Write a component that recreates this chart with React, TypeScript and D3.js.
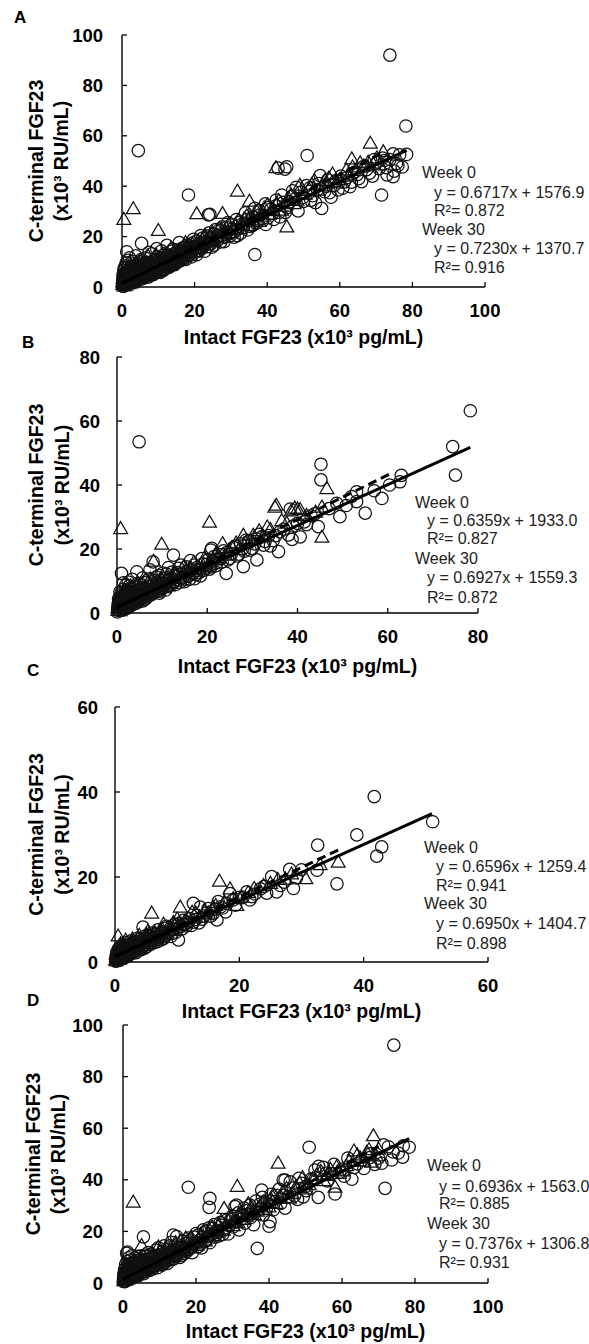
import React from 'react';
import * as d3 from 'd3';

type Pt = [number, number];

// ---------- Panel letters & tick labels ----------
const panelLetters = ['A', 'B', 'C', 'D'];
const xTicksA = [0, 20, 40, 60, 80, 100];
const yTicksA = [0, 20, 40, 60, 80, 100];
const xTicksB = [0, 20, 40, 60, 80];
const yTicksB = [0, 20, 40, 60, 80];
const xTicksC = [0, 20, 40, 60];
const yTicksC = [0, 20, 40, 60];
const xTicksD = [0, 20, 40, 60, 80, 100];
const yTicksD = [0, 20, 40, 60, 80, 100];

const xTitle = 'Intact FGF23 (x10³ pg/mL)';
const yTitle1 = 'C-terminal FGF23';
const yTitle2 = '(x10³ RU/mL)';
const seriesNames = ['Week 0', 'Week 30'];

// ---------- Regression equations (slope, intercept in pg/mL) ----------
const eqA = ['y = 0.6717x + 1576.9', 'R²= 0.872', 'y = 0.7230x + 1370.7', 'R²= 0.916'];
const eqB = ['y = 0.6359x + 1933.0', 'R²= 0.827', 'y = 0.6927x + 1559.3', 'R²= 0.872'];
const eqC = ['y = 0.6596x + 1259.4', 'R²= 0.941', 'y = 0.6950x + 1404.7', 'R²= 0.898'];
const eqD = ['y = 0.6936x + 1563.0', 'R²= 0.885', 'y = 0.7376x + 1306.8', 'R²= 0.931'];
const fitA = [[0.6717, 1576.9], [0.723, 1370.7]];
const fitB = [[0.6359, 1933.0], [0.6927, 1559.3]];
const fitC = [[0.6596, 1259.4], [0.695, 1404.7]];
const fitD = [[0.6936, 1563.0], [0.7376, 1306.8]];
// x-extent of each fitted line [week0, week30]
const fitRangeA = [[0, 78.4], [0, 72]];
const fitRangeB = [[0, 78.3], [0, 61]];
const fitRangeC = [[0, 51], [0, 36]];
const fitRangeD = [[0, 78.4], [0, 70]];

// ---------- Panel A data ----------
const aWeek0: Pt[] = [[0.1,0.4],[0.2,2.1],[0.3,1.0],[0.3,4.2],[0.4,0.2],[0.5,3.0],[0.5,6.5],[0.6,1.6],[0.7,2.6],[0.8,0.8],[0.8,5.2],[0.9,3.6],[1.0,1.9],[1.0,8.4],[1.1,2.8],[1.2,4.4],[1.3,1.2],[1.3,14.0],[1.4,3.4],[1.5,6.0],[1.6,2.2],[1.7,10.6],[1.8,3.9],[1.9,1.6],[2.0,5.1],[2.1,2.9],[2.2,4.0],[2.3,7.2],[2.4,2.3],[2.5,3.5],[2.6,5.8],[2.7,1.9],[2.8,4.6],[2.9,3.0],[3.0,9.2],[3.1,2.6],[3.2,5.3],[3.3,3.9],[3.5,6.9],[3.6,2.8],[3.7,4.5],[3.8,12.4],[3.9,3.6],[4.0,5.9],[4.2,2.9],[4.3,4.8],[4.4,7.8],[4.5,54.1],[4.6,3.8],[4.7,5.6],[4.8,10.0],[5.0,4.2],[5.1,6.6],[5.2,3.1],[5.4,5.2],[5.4,17.3],[5.5,8.4],[5.7,4.5],[5.8,6.2],[6.0,3.6],[6.1,7.1],[6.3,5.0],[6.4,11.5],[6.6,4.2],[6.7,6.4],[6.9,8.9],[7.0,5.1],[7.2,3.9],[7.3,7.3],[7.5,5.8],[7.6,9.8],[7.8,4.6],[8.0,6.9],[8.1,13.2],[8.3,5.4],[8.5,8.1],[8.6,4.9],[8.8,7.0],[9.0,10.6],[9.1,5.6],[9.3,7.9],[9.5,6.2],[9.7,12.0],[9.8,8.6],[10.0,6.0],[10.2,7.6],[10.4,9.9],[10.5,5.8],[10.7,8.3],[10.9,14.4],[11.0,7.1],[11.2,9.2],[11.4,6.6],[11.6,8.8],[11.8,11.3],[12.0,7.4],[12.2,9.6],[12.4,16.5],[12.5,8.1],[12.7,10.4],[12.9,7.8],[13.1,9.9],[13.3,12.6],[13.5,8.5],[13.7,10.8],[13.9,9.2],[14.1,15.0],[14.3,10.1],[14.5,8.9],[14.7,11.6],[14.9,13.8],[15.1,9.7],[15.3,11.0],[15.6,10.2],[15.8,17.6],[16.0,11.8],[16.3,10.5],[16.5,13.2],[16.8,11.4],[17.0,15.6],[17.3,12.0],[17.6,10.9],[17.9,13.7],[18.2,12.4],[18.3,36.5],[18.5,16.4],[18.8,13.0],[19.1,11.9],[19.4,14.6],[19.7,18.9],[20.0,13.8],[20.3,15.5],[20.6,12.8],[21.0,16.9],[21.3,14.5],[21.7,20.4],[22.0,15.3],[22.4,17.6],[22.8,14.2],[23.2,18.1],[23.6,16.0],[23.8,28.6],[24.0,21.5],[24.2,28.8],[24.5,17.2],[25.0,19.4],[25.4,16.6],[25.8,22.8],[26.3,18.4],[26.8,20.6],[27.2,17.9],[27.7,23.9],[28.2,19.7],[28.7,21.8],[29.2,25.6],[29.8,20.4],[30.3,22.9],[30.9,19.8],[31.5,26.8],[32.0,23.0],[32.7,21.4],[33.3,25.2],[34.0,29.4],[34.6,22.6],[35.2,26.3],[35.9,24.4],[36.6,12.9],[36.6,31.2],[37.3,25.8],[38.0,28.6],[38.8,26.4],[39.5,33.0],[40.2,27.5],[41.0,30.9],[41.8,26.8],[42.5,34.5],[43.0,47.2],[43.3,29.6],[44.0,36.5],[44.9,46.8],[45.4,47.7],[45.5,31.5],[46.2,33.8],[47.0,38.2],[47.8,35.0],[48.5,30.2],[49.3,37.6],[50.0,34.0],[51.0,52.2],[51.8,39.4],[52.5,36.2],[53.3,33.5],[54.2,41.0],[55.0,31.2],[55.8,37.8],[56.7,42.6],[57.6,35.6],[58.5,40.4],[59.5,38.5],[60.3,44.0],[61.2,41.6],[62.8,39.8],[64.0,45.5],[65.2,43.0],[66.5,47.8],[68.2,45.2],[69.5,50.6],[70.8,47.0],[71.5,36.5],[72.3,50.2],[73.0,44.5],[73.8,92.0],[74.7,43.8],[74.7,52.8],[75.6,49.0],[76.5,52.5],[77.2,47.6],[78.2,63.9],[78.4,52.6]];
const aWeek0Band: Pt[] = [[0.15,1.3],[0.25,2.9],[0.35,5.0],[0.45,1.7],[0.55,4.0],[0.65,7.6],[0.75,3.3],[0.85,1.2],[0.95,5.9],[1.05,3.1],[1.15,9.6],[1.25,2.4],[1.35,5.2],[1.45,1.6],[1.55,4.3],[1.65,7.8],[1.75,2.8],[1.85,6.4],[1.95,4.6],[2.05,11.6],[2.15,3.6],[2.25,1.8],[2.35,5.6],[2.45,8.2],[2.55,3.9],[2.65,6.7],[2.75,2.5],[2.85,10.2],[2.95,5.2],[3.05,3.4],[3.25,7.8],[3.45,4.6],[3.55,2.3],[3.75,8.6],[3.95,5.2],[4.15,3.8],[4.35,6.6],[4.55,9.2],[4.75,4.4],[4.95,7.2],[5.15,5.0],[5.35,11.0],[5.65,6.0],[5.95,8.0],[6.25,4.7],[6.55,9.8],[6.85,6.2],[7.15,7.6],[7.45,13.8],[7.75,7.0],[8.05,8.8],[8.35,6.4],[8.65,10.4],[8.95,7.6],[9.25,9.0],[9.55,15.2],[9.85,7.2],[10.15,10.8],[10.45,8.0],[10.75,11.6],[11.05,9.4],[11.35,12.6],[11.65,10.0],[11.95,13.4],[12.35,9.0],[12.75,12.0],[13.15,10.8],[13.55,14.2],[13.95,11.4],[14.35,13.0],[14.75,10.0],[15.15,12.6],[15.55,14.8],[15.95,12.8],[16.45,15.2],[16.95,13.0],[17.45,14.8],[17.95,16.6],[18.45,14.2],[18.95,15.8],[19.45,17.4],[19.95,16.0],[20.5,18.2],[21.0,14.4],[21.6,17.2],[22.2,19.4],[22.8,16.6],[23.4,20.2],[24.0,18.6],[24.7,15.8],[25.4,21.0],[26.0,19.4],[26.7,22.6],[27.4,20.4],[28.1,18.0],[28.8,23.6],[29.5,21.2],[30.2,24.6],[31.0,22.0],[31.8,20.4],[32.6,25.8],[33.4,23.6],[34.3,26.8],[35.2,24.0],[36.0,27.8],[36.9,25.2],[37.8,30.4],[38.7,27.2],[39.6,24.8],[40.5,31.6],[41.4,29.2],[42.4,32.2],[43.5,27.8],[44.5,33.6],[45.0,29.6],[46.8,36.0],[48.0,39.6],[49.8,35.4],[50.8,40.2],[52.0,34.4],[53.8,38.6],[54.6,44.2],[56.2,40.0],[57.2,37.4],[59.0,42.2],[60.8,39.2],[62.0,43.4],[63.2,41.6],[64.8,44.6],[66.0,41.8],[67.4,46.6],[69.0,44.0],[70.4,49.6],[71.8,51.2],[72.8,47.4],[73.8,50.6],[75.0,46.0],[76.0,48.2]];
const aWeek30: Pt[] = [[0.2,1.2],[0.3,3.5],[0.5,0.6],[0.5,27.0],[0.6,5.4],[0.8,2.4],[1.0,4.0],[1.1,0.9],[1.3,7.0],[1.5,2.6],[1.7,4.9],[1.9,1.5],[2.1,6.1],[2.3,3.2],[2.6,8.5],[2.8,4.1],[3.0,2.2],[3.1,31.2],[3.3,6.4],[3.6,4.3],[3.9,9.1],[4.2,5.3],[4.5,3.4],[4.8,7.2],[5.1,11.0],[5.4,5.0],[5.7,8.0],[6.0,4.6],[6.4,9.4],[6.8,6.0],[7.2,12.3],[7.6,7.2],[8.0,5.6],[8.4,9.6],[8.9,7.4],[9.3,13.0],[9.8,8.8],[10.0,22.6],[10.3,6.9],[10.8,10.4],[11.3,8.6],[11.8,12.8],[12.3,9.2],[12.9,11.5],[13.5,15.4],[14.1,10.4],[14.7,12.6],[15.4,11.2],[16.1,14.9],[16.8,12.3],[17.5,17.8],[18.3,13.4],[19.0,15.6],[19.8,14.0],[20.6,29.2],[20.6,17.2],[21.5,15.8],[22.4,19.6],[23.3,17.0],[24.3,20.5],[25.3,18.6],[26.4,22.4],[27.5,19.9],[27.7,29.3],[28.7,23.7],[30.0,21.6],[31.2,25.0],[31.8,38.2],[32.5,23.2],[33.7,27.2],[35.0,24.6],[35.1,34.2],[36.4,28.6],[37.8,26.2],[39.2,31.5],[40.6,29.0],[42.4,47.5],[42.6,33.2],[44.0,30.6],[45.4,24.0],[45.8,35.5],[47.4,33.2],[49.0,40.5],[50.5,37.0],[52.3,40.8],[54.0,38.6],[56.0,42.5],[58.0,45.0],[60.0,42.8],[61.8,46.6],[63.3,51.0],[63.5,47.8],[65.6,49.4],[67.8,49.7],[68.4,57.2],[70.2,51.4],[72.0,53.8]];
const aWeek30Band: Pt[] = [[0.25,2.2],[0.45,4.6],[0.7,1.8],[0.9,3.2],[1.2,5.4],[1.4,1.9],[1.6,3.6],[1.8,6.8],[2.0,2.4],[2.2,4.8],[2.5,1.8],[2.7,6.2],[2.9,3.8],[3.2,5.0],[3.4,2.8],[3.8,6.9],[4.1,3.9],[4.4,8.4],[4.7,5.4],[5.0,3.8],[5.3,6.8],[5.6,9.6],[6.2,6.0],[6.6,7.9],[7.0,5.2],[7.4,8.6],[8.2,7.6],[8.7,11.0],[9.1,6.2],[9.6,10.0],[10.6,8.2],[11.1,11.8],[11.6,9.4],[12.6,10.6],[13.2,8.8],[13.8,12.4],[14.4,14.0],[15.0,10.8],[15.8,13.6],[16.5,11.2],[17.2,14.6],[18.0,16.4],[18.7,12.6],[19.4,17.0],[20.2,15.0],[21.0,18.4],[22.0,16.6],[22.9,20.6],[23.8,18.0],[24.8,22.0],[25.8,20.0],[26.9,23.4],[28.2,21.4],[29.4,25.0],[30.6,23.0],[32.0,26.6],[33.2,24.6],[34.4,28.4],[36.0,26.8],[37.2,30.0],[38.4,28.2],[40.0,32.6],[41.6,30.4],[43.2,34.4],[44.8,32.2],[46.6,36.6],[48.2,34.6],[51.5,39.0],[53.0,42.4],[55.0,40.2],[57.0,43.4],[59.0,41.4],[62.6,44.6],[64.6,46.4],[66.6,48.2],[69.2,49.0],[71.0,48.6]];

// ---------- Panel B data ----------
const bWeek0: Pt[] = [[0.1,0.3],[0.2,1.6],[0.3,3.1],[0.4,0.8],[0.5,2.4],[0.6,4.8],[0.7,1.3],[0.8,3.4],[0.9,6.2],[1.0,12.4],[1.0,2.0],[1.1,4.1],[1.2,0.9],[1.3,2.9],[1.4,7.4],[1.5,3.6],[1.6,1.7],[1.7,5.2],[1.8,2.5],[1.9,8.6],[2.0,3.9],[2.1,1.4],[2.2,5.8],[2.3,3.1],[2.4,4.6],[2.5,9.7],[2.6,2.4],[2.7,6.4],[2.8,3.7],[2.9,5.0],[3.0,2.2],[3.2,7.4],[3.3,4.2],[3.4,10.5],[3.5,3.0],[3.6,5.6],[3.8,4.0],[3.9,8.1],[4.0,2.9],[4.2,6.2],[4.3,4.7],[4.4,12.9],[4.5,3.6],[4.7,7.0],[4.9,53.5],[4.9,5.1],[5.1,9.0],[5.3,4.0],[5.5,6.3],[5.7,11.0],[5.9,5.0],[6.1,7.6],[6.3,4.4],[6.5,9.5],[6.7,6.1],[6.9,8.2],[7.1,5.3],[7.3,13.5],[7.5,7.0],[7.7,5.8],[8.0,16.0],[8.0,9.1],[8.2,6.4],[8.4,7.9],[8.7,11.2],[8.9,6.8],[9.2,8.8],[9.4,6.2],[9.7,10.3],[10.0,7.6],[10.2,12.5],[10.5,8.6],[10.8,7.2],[11.1,10.0],[11.4,14.2],[11.7,8.8],[12.0,10.8],[12.3,9.4],[12.5,18.1],[12.7,11.7],[13.0,8.9],[13.4,12.6],[13.8,10.3],[14.2,15.0],[14.6,11.0],[15.0,9.8],[15.4,13.1],[15.8,11.5],[16.3,16.4],[16.7,12.2],[17.2,10.7],[17.7,14.2],[18.2,12.6],[18.8,17.0],[19.3,13.4],[19.9,15.2],[20.5,13.7],[20.8,19.7],[21.0,20.2],[21.2,16.3],[21.9,14.8],[22.6,18.2],[23.3,16.0],[24.2,12.4],[24.3,18.9],[25.0,17.1],[25.8,20.5],[26.6,17.8],[27.4,21.6],[28.0,14.5],[28.2,19.3],[29.1,22.4],[30.0,20.2],[31.0,16.6],[31.0,23.1],[32.1,23.8],[32.5,21.2],[33.6,24.2],[34.6,22.6],[35.8,19.2],[36.1,25.4],[38.4,32.5],[38.8,23.0],[39.0,27.2],[40.6,23.8],[41.5,28.5],[43.0,30.4],[44.6,27.0],[45.2,46.5],[45.2,41.6],[48.7,34.3],[49.4,30.1],[53.1,37.9],[53.1,34.8],[55.0,31.2],[58.7,35.8],[62.7,41.0],[74.4,52.0],[75.0,43.1],[78.3,63.2]];
const bWeek0Band: Pt[] = [[0.15,1.0],[0.25,2.4],[0.35,4.4],[0.45,1.4],[0.55,3.4],[0.65,6.6],[0.75,2.2],[0.85,4.6],[0.95,1.2],[1.05,3.2],[1.15,5.8],[1.25,2.0],[1.35,4.2],[1.45,9.4],[1.55,2.6],[1.65,6.0],[1.75,3.8],[1.85,1.8],[1.95,5.0],[2.05,7.0],[2.15,2.8],[2.25,4.4],[2.35,1.6],[2.45,6.6],[2.55,3.6],[2.7,8.4],[2.85,4.6],[3.0,3.4],[3.1,6.0],[3.25,2.6],[3.4,5.0],[3.55,7.6],[3.7,3.6],[3.85,5.8],[4.05,4.0],[4.25,8.8],[4.45,5.4],[4.65,3.4],[4.85,6.8],[5.05,4.4],[5.3,7.8],[5.5,5.0],[5.75,3.8],[6.0,6.6],[6.2,9.6],[6.45,5.4],[6.75,7.4],[7.0,10.6],[7.25,6.0],[7.55,8.4],[7.85,6.6],[8.3,10.2],[8.6,7.2],[9.0,9.4],[9.3,11.8],[9.6,7.6],[9.9,8.8],[10.3,10.8],[10.7,9.2],[11.0,12.2],[11.3,8.2],[11.8,10.4],[12.2,12.8],[12.6,9.8],[13.1,11.4],[13.6,14.0],[14.0,9.6],[14.4,12.2],[14.9,10.4],[15.3,14.4],[15.7,12.6],[16.1,10.6],[16.6,13.4],[17.1,15.0],[17.5,12.0],[18.0,13.8],[18.5,11.6],[19.0,15.4],[19.6,14.0],[20.2,16.6],[20.8,14.4],[21.5,17.6],[22.2,15.8],[22.9,17.0],[23.6,19.4],[24.6,16.6],[25.4,18.6],[26.2,20.8],[27.0,18.4],[27.8,20.0],[28.6,22.8],[29.5,19.6],[30.5,21.6],[31.5,24.6],[32.8,22.4],[34.0,21.0],[35.2,24.2],[37.0,26.2],[38.0,24.4],[40.0,28.0],[42.0,27.6],[43.8,31.0],[47.0,32.6],[50.8,33.6],[52.0,36.4],[57.0,38.2],[60.4,40.0],[63.0,43.0]];
const bWeek30: Pt[] = [[0.2,0.9],[0.4,2.6],[0.6,4.4],[0.8,26.5],[0.8,1.6],[1.0,3.3],[1.3,5.9],[1.5,2.1],[1.8,4.0],[2.1,7.0],[2.4,2.9],[2.7,5.0],[3.0,8.6],[3.4,3.8],[3.8,6.4],[4.2,4.6],[4.7,9.3],[5.2,6.0],[5.7,4.8],[6.2,8.4],[6.8,6.8],[7.4,10.8],[8.0,8.0],[8.1,16.3],[8.7,6.6],[9.4,9.6],[9.9,21.6],[10.2,8.2],[11.0,11.4],[11.9,9.3],[12.8,12.7],[13.8,10.9],[14.8,14.6],[15.9,12.4],[17.0,15.9],[18.2,13.9],[19.4,17.3],[20.5,28.5],[20.7,15.4],[22.0,18.9],[23.4,21.8],[24.8,19.6],[26.4,22.0],[28.0,24.4],[29.7,22.8],[31.5,25.8],[33.3,27.0],[35.0,33.2],[35.3,33.8],[36.5,29.0],[39.4,32.9],[40.0,32.6],[40.6,32.4],[45.4,33.2],[45.4,23.8],[46.5,39.0]];
const bWeek30Band: Pt[] = [[0.3,1.8],[0.5,3.6],[0.7,0.8],[0.9,2.4],[1.1,5.0],[1.4,3.0],[1.6,6.8],[1.9,2.6],[2.2,4.4],[2.5,6.0],[2.8,3.4],[3.2,5.6],[3.6,7.6],[4.0,3.6],[4.4,5.8],[4.9,7.8],[5.4,5.2],[5.9,7.2],[6.5,5.6],[7.1,8.8],[7.7,7.4],[8.4,9.6],[9.1,7.6],[9.8,11.0],[10.6,9.4],[11.4,8.6],[12.2,11.0],[13.2,12.4],[14.2,11.4],[15.3,13.4],[16.4,14.2],[17.6,13.0],[18.8,15.6],[20.0,14.6],[21.4,16.8],[22.7,17.4],[24.0,18.2],[25.5,20.6],[27.0,20.0],[28.6,22.0],[30.2,24.4],[32.4,24.0],[34.0,26.2],[37.6,28.2],[38.6,32.0],[42.0,30.6],[44.0,31.6]];

// ---------- Panel C data ----------
const cWeek0: Pt[] = [[0.1,0.2],[0.2,1.3],[0.3,0.6],[0.3,2.4],[0.4,0.9],[0.5,1.8],[0.6,3.2],[0.6,0.4],[0.7,1.4],[0.8,2.6],[0.9,0.8],[1.0,1.9],[1.1,3.9],[1.2,1.1],[1.3,2.5],[1.4,1.5],[1.5,3.4],[1.6,2.0],[1.7,4.6],[1.8,1.6],[1.9,2.9],[2.0,2.2],[2.1,3.8],[2.2,1.7],[2.4,3.1],[2.5,2.4],[2.6,5.0],[2.8,2.8],[2.9,3.9],[3.0,2.2],[3.2,4.5],[3.3,3.0],[3.5,3.7],[3.6,5.6],[3.8,3.2],[4.0,4.3],[4.2,2.9],[4.4,5.2],[4.5,8.2],[4.6,3.8],[4.8,4.8],[5.0,6.2],[5.2,4.1],[5.4,5.4],[5.7,4.6],[5.9,6.8],[6.1,5.1],[6.4,6.0],[6.7,5.3],[6.9,7.6],[7.2,5.9],[7.5,6.7],[7.8,5.5],[8.1,7.9],[8.4,6.4],[8.8,7.3],[9.2,6.7],[9.6,8.9],[10.0,7.6],[10.2,5.2],[10.5,8.4],[11.0,9.8],[11.5,8.5],[12.0,10.2],[12.6,13.8],[12.6,9.4],[13.2,11.0],[13.7,12.9],[14.0,10.1],[14.8,11.6],[15.4,10.8],[16.1,12.4],[16.4,9.9],[16.6,14.2],[17.3,12.7],[18.0,13.8],[18.5,16.1],[19.0,14.6],[20.0,15.2],[21.2,16.5],[21.7,14.6],[22.5,16.0],[23.4,17.2],[24.4,16.2],[25.2,20.1],[26.0,16.5],[27.2,18.8],[28.1,21.8],[28.7,17.3],[30.0,21.7],[32.5,21.6],[32.6,27.5],[35.7,18.4],[38.9,29.9],[41.7,38.9],[42.1,24.9],[42.9,27.1],[51.1,33.0]];
const cWeek0Band: Pt[] = [[0.15,0.9],[0.25,1.8],[0.35,0.3],[0.45,1.3],[0.55,2.4],[0.65,1.0],[0.75,3.0],[0.85,1.6],[0.95,2.4],[1.05,0.8],[1.15,1.8],[1.25,3.0],[1.35,2.0],[1.45,0.9],[1.55,2.6],[1.65,1.3],[1.75,3.2],[1.85,2.3],[1.95,4.0],[2.05,1.4],[2.15,2.6],[2.3,3.4],[2.45,1.9],[2.55,4.2],[2.7,2.2],[2.85,3.4],[3.0,4.6],[3.1,2.6],[3.25,3.6],[3.4,2.2],[3.55,4.2],[3.7,2.8],[3.9,3.8],[4.1,5.4],[4.3,3.4],[4.5,4.4],[4.7,3.2],[4.9,5.6],[5.1,3.6],[5.3,4.8],[5.6,6.2],[5.8,4.2],[6.0,5.6],[6.3,4.6],[6.6,6.6],[6.8,4.8],[7.1,6.4],[7.4,5.2],[7.7,7.0],[8.0,6.0],[8.3,8.4],[8.6,6.8],[9.0,6.0],[9.4,7.8],[9.8,7.0],[10.3,9.0],[10.8,7.8],[11.2,8.8],[11.8,9.4],[12.3,8.6],[13.0,10.0],[13.5,9.2],[14.3,10.8],[15.0,12.6],[15.8,11.4],[17.0,13.0],[17.8,11.8],[19.4,13.4],[20.6,15.2],[22.0,15.4],[24.0,17.8],[26.6,18.0],[29.2,19.8]];
const cWeek30: Pt[] = [[0.1,0.6],[0.2,2.0],[0.3,1.0],[0.4,3.0],[0.5,6.2],[0.6,1.6],[0.8,2.7],[0.9,4.4],[1.1,1.8],[1.3,3.4],[1.5,2.4],[1.7,5.2],[1.9,3.0],[2.2,4.2],[2.5,2.6],[2.8,5.5],[3.1,3.6],[3.5,4.8],[3.9,6.4],[4.3,4.4],[4.8,5.9],[5.3,7.3],[5.8,5.6],[5.9,11.6],[6.4,7.0],[7.0,6.2],[7.6,7.8],[7.8,9.0],[8.5,8.1],[9.4,9.4],[10.5,13.0],[10.6,9.0],[11.8,10.4],[13.0,11.6],[14.4,12.0],[15.8,12.9],[16.8,19.1],[18.5,17.3],[19.6,13.4],[20.4,15.4],[22.4,17.4],[23.9,18.1],[26.2,19.5],[28.4,20.8],[30.7,19.7],[33.0,23.0],[35.9,23.6]];
const cWeek30Band: Pt[] = [[0.2,0.4],[0.35,1.6],[0.55,2.4],[0.7,0.8],[0.85,3.6],[1.0,1.4],[1.2,2.6],[1.4,4.2],[1.6,1.6],[1.8,3.4],[2.0,2.0],[2.35,3.8],[2.65,4.8],[2.95,2.8],[3.3,4.4],[3.7,3.4],[4.1,5.4],[4.5,4.6],[5.0,6.6],[5.5,5.0],[6.1,6.4],[6.7,5.6],[7.3,7.6],[8.0,6.8],[8.8,7.6],[9.6,8.6],[10.0,10.2],[11.2,9.6],[12.4,11.8],[13.6,10.6],[15.0,11.6],[16.2,13.4],[17.6,14.2],[19.0,15.0],[21.4,16.4],[25.0,18.6],[27.4,19.6]];

// ---------- Panel D data ----------
const dWeek0: Pt[] = [[0.1,0.6],[0.2,2.4],[0.3,1.2],[0.4,3.8],[0.5,0.5],[0.6,2.9],[0.7,5.6],[0.8,1.7],[0.9,3.3],[1.0,11.5],[1.0,2.2],[1.1,4.6],[1.2,12.0],[1.2,1.4],[1.3,3.0],[1.4,6.8],[1.5,2.4],[1.6,4.1],[1.7,1.8],[1.8,5.3],[1.9,3.1],[2.0,8.9],[2.1,2.5],[2.2,4.4],[2.3,6.2],[2.5,3.3],[2.6,1.9],[2.7,5.0],[2.8,3.8],[3.0,7.4],[3.1,2.7],[3.3,4.9],[3.4,9.8],[3.6,3.4],[3.7,6.0],[3.9,4.2],[4.1,2.8],[4.2,7.0],[4.4,5.1],[4.6,3.6],[4.7,10.4],[4.9,5.7],[5.1,4.0],[5.3,7.6],[5.5,5.0],[5.6,17.9],[5.7,3.6],[5.9,6.4],[6.1,9.0],[6.3,4.6],[6.5,6.9],[6.7,5.4],[6.9,11.8],[7.1,6.1],[7.3,4.9],[7.5,8.0],[7.8,6.4],[8.0,10.2],[8.2,5.5],[8.5,7.6],[8.7,6.6],[9.0,12.8],[9.2,7.4],[9.5,5.9],[9.8,9.2],[10.1,7.9],[10.4,11.0],[10.7,6.9],[11.0,8.8],[11.3,14.4],[11.6,8.0],[11.9,10.1],[12.2,7.6],[12.6,11.6],[12.9,9.0],[13.2,15.8],[13.5,10.4],[13.8,18.6],[14.0,9.4],[14.4,12.2],[14.7,18.0],[14.8,10.6],[15.2,13.6],[15.6,9.9],[16.0,12.7],[16.4,16.2],[16.8,11.4],[17.2,13.9],[17.6,12.3],[17.9,37.1],[18.0,17.4],[18.5,13.5],[19.0,11.8],[19.5,15.6],[20.0,19.2],[20.5,14.0],[21.0,16.6],[21.5,13.6],[22.0,20.6],[22.6,16.2],[23.2,18.0],[23.6,29.3],[23.8,32.8],[23.8,15.6],[24.5,21.2],[25.2,17.8],[25.9,19.6],[26.6,23.4],[27.3,18.8],[28.0,21.4],[28.8,19.0],[29.5,24.6],[30.2,21.7],[30.7,29.6],[31.1,30.2],[31.0,23.6],[31.8,20.6],[32.6,26.0],[33.4,23.2],[34.2,28.2],[35.0,25.4],[35.8,22.6],[36.6,27.8],[36.8,13.4],[37.5,30.6],[38.0,36.0],[38.4,26.4],[39.3,29.0],[40.0,22.0],[40.3,23.8],[40.2,31.8],[41.2,28.4],[42.2,34.0],[43.2,30.8],[43.9,39.9],[44.4,29.0],[44.4,39.9],[45.4,33.6],[46.6,36.8],[47.8,32.4],[49.0,38.6],[49.4,33.4],[50.2,35.8],[51.0,52.6],[51.6,40.4],[52.6,43.8],[53.5,33.2],[54.9,44.8],[56.0,39.6],[57.2,42.4],[58.1,34.5],[59.4,43.0],[60.6,41.4],[62.7,40.2],[64.2,46.2],[66.0,44.4],[67.6,48.6],[69.0,46.0],[70.9,46.4],[71.8,36.7],[72.7,52.8],[73.6,47.7],[74.2,92.2],[75.4,50.4],[76.6,48.8],[78.4,52.6]];
const dWeek0Band: Pt[] = [[0.15,1.6],[0.25,3.4],[0.35,0.8],[0.45,5.2],[0.55,2.0],[0.65,4.0],[0.75,7.2],[0.85,2.6],[0.95,4.8],[1.05,1.2],[1.15,8.4],[1.25,3.6],[1.35,5.8],[1.45,2.0],[1.55,9.8],[1.65,3.4],[1.75,6.6],[1.85,4.0],[1.95,2.4],[2.05,5.8],[2.15,7.6],[2.25,3.0],[2.35,4.8],[2.45,10.6],[2.55,2.6],[2.65,6.0],[2.75,4.2],[2.9,8.0],[3.05,5.0],[3.2,3.4],[3.4,6.6],[3.55,4.4],[3.75,8.8],[3.95,5.8],[4.15,3.6],[4.35,7.8],[4.55,5.2],[4.8,9.0],[5.0,6.4],[5.25,4.2],[5.45,8.6],[5.8,6.0],[6.0,10.8],[6.4,7.6],[6.8,5.2],[7.0,9.4],[7.4,6.6],[7.7,11.2],[8.1,7.4],[8.4,9.6],[8.8,7.0],[9.1,10.6],[9.4,8.4],[9.7,13.6],[10.0,8.8],[10.3,10.2],[10.6,7.4],[10.9,12.2],[11.2,9.6],[11.5,11.0],[11.8,8.6],[12.1,13.0],[12.4,10.4],[12.8,14.4],[13.1,11.4],[13.6,9.2],[14.1,12.8],[14.6,11.0],[15.0,14.8],[15.4,12.4],[15.9,10.6],[16.3,14.0],[16.8,12.6],[17.4,15.4],[17.8,13.2],[18.4,16.6],[18.9,14.4],[19.4,17.8],[20.0,15.6],[20.6,18.6],[21.2,15.0],[21.8,17.6],[22.4,19.8],[23.0,17.0],[23.6,21.4],[24.3,19.0],[25.0,22.6],[25.6,20.4],[26.3,18.2],[27.0,22.4],[27.7,20.6],[28.4,24.4],[29.2,22.2],[30.0,26.0],[30.8,24.0],[31.6,27.2],[32.4,24.8],[33.2,29.0],[34.0,26.4],[34.8,30.2],[35.6,27.6],[36.4,31.8],[37.2,28.6],[38.2,33.2],[39.2,31.0],[40.6,34.4],[41.6,31.6],[42.8,36.4],[44.0,34.0],[45.8,39.2],[47.0,33.8],[48.2,40.6],[50.0,37.4],[52.0,40.0],[53.6,45.2],[55.6,42.6],[57.8,46.0],[60.0,44.2],[61.6,48.4],[63.4,44.8],[65.4,47.6],[68.0,50.2],[70.0,48.4],[71.4,53.6],[74.0,50.8],[76.8,53.2]];
const dWeek30: Pt[] = [[0.2,1.0],[0.4,2.8],[0.6,4.6],[0.8,1.5],[1.0,6.6],[1.2,3.0],[1.5,4.8],[1.8,2.2],[2.1,7.4],[2.4,3.6],[2.8,31.5],[2.8,5.4],[3.2,2.9],[3.6,8.4],[4.0,4.6],[4.5,6.6],[5.0,9.8],[5.1,14.7],[5.5,5.4],[6.0,7.8],[6.6,5.8],[7.2,10.4],[7.8,7.2],[8.4,9.2],[9.0,6.9],[9.7,14.1],[9.7,11.0],[10.4,8.6],[11.1,10.6],[11.9,13.4],[12.7,9.9],[13.5,12.2],[14.4,15.8],[15.3,11.8],[16.2,14.0],[17.2,17.6],[18.2,13.8],[19.2,16.2],[20.3,14.8],[21.4,18.6],[22.6,16.4],[23.8,20.4],[25.0,18.6],[26.2,22.8],[27.5,20.6],[27.7,29.0],[28.8,24.2],[30.2,22.4],[31.3,37.6],[31.6,26.4],[33.0,24.8],[34.3,30.9],[34.5,28.0],[36.0,26.6],[37.5,30.2],[39.0,28.6],[40.5,32.8],[42.0,31.0],[42.5,46.6],[43.8,35.4],[45.6,33.0],[47.4,37.4],[49.2,41.0],[51.0,38.2],[53.0,41.8],[55.0,39.8],[56.8,44.2],[58.1,37.3],[58.5,45.1],[60.4,43.6],[62.0,47.4],[63.3,51.3],[65.0,48.6],[66.8,50.8],[68.1,47.0],[68.6,57.2],[70.0,52.0]];
const dWeek30Band: Pt[] = [[0.3,2.0],[0.5,3.6],[0.7,1.2],[0.9,5.4],[1.1,2.4],[1.35,4.2],[1.6,7.2],[1.9,3.6],[2.2,5.6],[2.6,2.8],[3.0,6.6],[3.4,4.2],[3.8,7.6],[4.2,5.6],[4.7,4.0],[5.2,7.2],[5.8,9.0],[6.3,6.6],[6.9,8.6],[7.5,6.4],[8.1,11.4],[8.7,8.2],[9.3,10.0],[10.0,12.4],[10.8,9.6],[11.5,12.0],[12.3,10.6],[13.1,13.8],[13.9,11.0],[14.8,13.2],[15.8,16.4],[16.7,12.8],[17.7,15.2],[18.7,17.8],[19.7,15.6],[20.8,17.4],[22.0,20.0],[23.2,18.0],[24.4,21.8],[25.6,19.8],[26.9,24.2],[28.2,22.4],[29.6,25.8],[31.0,23.6],[32.4,27.6],[33.8,26.0],[35.2,29.6],[36.8,28.0],[38.4,31.6],[40.0,29.6],[41.2,34.6],[43.0,33.0],[44.8,36.8],[46.4,34.8],[48.4,38.8],[50.0,36.6],[52.0,40.6],[54.2,43.4],[56.0,41.8],[59.2,42.6],[61.2,45.6],[64.2,49.8],[66.0,47.4],[67.4,51.8],[69.4,49.4]];

// ---------- Layout (pixels) ----------
const layouts = [
  { letter: [14, 23], x0: 122, x1: 485, y0: 287, y1: 35, tickGap: 19, xTickDy: 30, xTitleDy: 57, yt1: 43, yt2: 68, annX: 422, annY: [172, 192, 210, 229, 248, 267] },
  { letter: [22, 348], x0: 117, x1: 478, y0: 613, y1: 357, tickGap: 17, xTickDy: 30, xTitleDy: 60, yt1: 43, yt2: 69, annX: 415, annY: [502, 520, 538, 558, 577, 597] },
  { letter: [27, 676], x0: 115, x1: 488, y0: 962, y1: 707, tickGap: 17, xTickDy: 30, xTitleDy: 56, yt1: 43, yt2: 69, annX: 424, annY: [847, 866, 885, 903, 923, 943] },
  { letter: [27, 1006], x0: 123, x1: 488, y0: 1283, y1: 1025, tickGap: 20, xTickDy: 30, xTitleDy: 55, yt1: 40, yt2: 65, annX: 427, annY: [1165, 1186, 1203, 1223, 1243, 1262] },
];

const panels = [
  { xTicks: xTicksA, yTicks: yTicksA, w0: [...aWeek0, ...aWeek0Band], w30: [...aWeek30, ...aWeek30Band], eq: eqA, fit: fitA, fitRange: fitRangeA },
  { xTicks: xTicksB, yTicks: yTicksB, w0: [...bWeek0, ...bWeek0Band], w30: [...bWeek30, ...bWeek30Band], eq: eqB, fit: fitB, fitRange: fitRangeB },
  { xTicks: xTicksC, yTicks: yTicksC, w0: [...cWeek0, ...cWeek0Band], w30: [...cWeek30, ...cWeek30Band], eq: eqC, fit: fitC, fitRange: fitRangeC },
  { xTicks: xTicksD, yTicks: yTicksD, w0: [...dWeek0, ...dWeek0Band], w30: [...dWeek30, ...dWeek30Band], eq: eqD, fit: fitD, fitRange: fitRangeD },
];

const FONT = "'Liberation Sans', Arial, sans-serif";
const TRI = 'M0,-6.6L6.9,5.3L-6.9,5.3Z';

function Panel({ idx }: { idx: number }) {
  const p = panels[idx];
  const L = layouts[idx];
  const x = d3.scaleLinear().domain([0, p.xTicks[p.xTicks.length - 1]]).range([L.x0, L.x1]);
  const y = d3.scaleLinear().domain([0, p.yTicks[p.yTicks.length - 1]]).range([L.y0, L.y1]);
  const line = d3.line<[number, number]>().x((d) => x(d[0])).y((d) => y(d[1]));
  const fitPath = (k: number) => {
    const [m, b] = p.fit[k];
    const pts: [number, number][] = p.fitRange[k].map((v) => [v, m * v + b / 1000]);
    return line(pts) || '';
  };
  const ycMid = (L.y0 + L.y1) / 2;
  const xcMid = (L.x0 + L.x1) / 2;
  return (
    <g>
      <text x={L.letter[0]} y={L.letter[1]} fontFamily={FONT} fontWeight="bold" fontSize={17}>{panelLetters[idx]}</text>
      <line x1={L.x0} x2={L.x0} y1={L.y1} y2={L.y0} stroke="#000" strokeWidth={1.4} />
      <line x1={L.x0} x2={L.x1} y1={L.y0} y2={L.y0} stroke="#000" strokeWidth={1.4} />
      {p.yTicks.map((t) => (
        <g key={'yt' + t}>
          <line x1={L.x0} x2={L.x0 + 5} y1={y(t)} y2={y(t)} stroke="#000" strokeWidth={1.3} />
          <text x={L.x0 - L.tickGap} y={y(t) + 6.5} textAnchor="end" fontFamily={FONT} fontWeight="bold" fontSize={18.5}>{t}</text>
        </g>
      ))}
      {p.xTicks.map((t) => (
        <g key={'xt' + t}>
          <line x1={x(t)} x2={x(t)} y1={L.y0} y2={L.y0 - 5} stroke="#000" strokeWidth={1.3} />
          <text x={x(t)} y={L.y0 + L.xTickDy} textAnchor="middle" fontFamily={FONT} fontWeight="bold" fontSize={18.5}>{t}</text>
        </g>
      ))}
      <text x={xcMid} y={L.y0 + L.xTitleDy} textAnchor="middle" fontFamily={FONT} fontWeight="bold" fontSize={19.5}>{xTitle}</text>
      <text transform={`translate(${L.yt1},${ycMid}) rotate(-90)`} textAnchor="middle" fontFamily={FONT} fontWeight="bold" fontSize={19.5}>{yTitle1}</text>
      <text transform={`translate(${L.yt2},${ycMid}) rotate(-90)`} textAnchor="middle" fontFamily={FONT} fontWeight="bold" fontSize={19.5}>{yTitle2}</text>
      {p.w0.map((d, i) => (
        <circle key={'c' + i} cx={x(d[0])} cy={y(d[1])} r={6.2} fill="none" stroke="#111" strokeWidth={1.25} />
      ))}
      {p.w30.map((d, i) => (
        <path key={'t' + i} d={TRI} transform={`translate(${x(d[0])},${y(d[1])})`} fill="none" stroke="#111" strokeWidth={1.25} />
      ))}
      <path d={fitPath(0)} stroke="#000" strokeWidth={3} fill="none" />
      <path d={fitPath(1)} stroke="#000" strokeWidth={3} fill="none" strokeDasharray="9,5" />
      <g fontFamily={FONT} fontSize={16} fill="#222">
        <text x={L.annX} y={L.annY[0] + 5.5}>{seriesNames[0]}</text>
        <text x={L.annX + 12} y={L.annY[1] + 5.5}>{p.eq[0]}</text>
        <text x={L.annX + 12} y={L.annY[2] + 5.5}>{p.eq[1]}</text>
        <text x={L.annX} y={L.annY[3] + 5.5}>{seriesNames[1]}</text>
        <text x={L.annX + 12} y={L.annY[4] + 5.5}>{p.eq[2]}</text>
        <text x={L.annX + 12} y={L.annY[5] + 5.5}>{p.eq[3]}</text>
      </g>
    </g>
  );
}

export default function App() {
  return (
    <svg width={589} height={1344} style={{ position: 'absolute', left: 0, top: 0, background: '#fff' }}>
      <rect width={589} height={1344} fill="#fff" />
      {[0, 1, 2, 3].map((i) => <Panel key={i} idx={i} />)}
    </svg>
  );
}
